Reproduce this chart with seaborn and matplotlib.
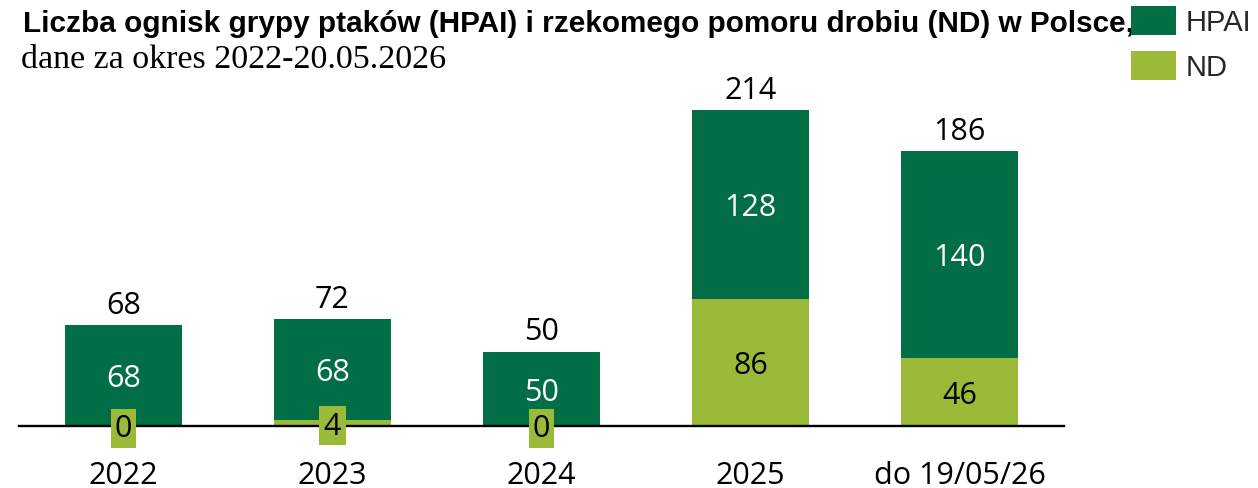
import matplotlib
matplotlib.use("Agg")
import matplotlib.pyplot as plt
import seaborn as sns
import pandas as pd
from matplotlib.patches import Patch

# ---- data ----
categories = ["2022", "2023", "2024", "2025", "do 19/05/26"]
hpai = [68, 68, 50, 128, 140]
nd = [0, 4, 0, 86, 46]
series_names = ["HPAI", "ND"]
title = "Liczba ognisk grypy ptaków (HPAI) i rzekomego pomoru drobiu (ND) w Polsce,"
subtitle = "dane za okres 2022-20.05.2026"

DARK = "#016E45"
LIGHT = "#9BBA37"

sns.set_theme(style="white")
plt.rcParams["font.family"] = ["Open Sans", "DejaVu Sans"]

totals = [h + n for h, n in zip(hpai, nd)]
df = pd.DataFrame({"cat": categories, "HPAI": hpai, "ND": nd, "total": totals})

W, H = 1258, 489
fig = plt.figure(figsize=(W / 100, H / 100), dpi=100)
base_px = 426.5
top_px = 100
ax = fig.add_axes([19 / W, (H - base_px) / H, 1045 / W, (base_px - top_px) / H])

sns.barplot(data=df, x="cat", y="total", color=DARK, width=0.557, saturation=1,
            errorbar=None, linewidth=0, ax=ax)
sns.barplot(data=df, x="cat", y="ND", color=LIGHT, width=0.557, saturation=1,
            errorbar=None, linewidth=0, ax=ax)

px_per_unit = 1.474
ax.set_ylim(0, (base_px - top_px) / px_per_unit)
ax.set_xlim(-0.5, 4.5)
ax.set_xlabel("")
ax.set_ylabel("")
ax.set_yticks([])
for s in ["top", "right", "left"]:
    ax.spines[s].set_visible(False)
ax.spines["bottom"].set_color("black")
ax.spines["bottom"].set_linewidth(1.7)
ax.tick_params(axis="x", length=0, pad=25, labelsize=22, labelcolor="black")

FS = 22
for i in range(len(categories)):
    ax.annotate(str(totals[i]), (i, totals[i]), xytext=(0, 9), textcoords="offset points",
                ha="center", va="baseline", fontsize=FS, color="black", zorder=5)
    ax.annotate(str(hpai[i]), (i, nd[i] + hpai[i] / 2), xytext=(0, -7.9),
                textcoords="offset points", ha="center", va="baseline",
                fontsize=FS, color="white", zorder=5)
    kw = {}
    if nd[i] < 10:
        kw["bbox"] = dict(boxstyle="square,pad=0.14", fc=LIGHT, ec="none")
    ax.annotate(str(nd[i]), (i, nd[i] / 2), xytext=(0, -7.9),
                textcoords="offset points", ha="center", va="baseline",
                fontsize=FS, color="black", zorder=5, annotation_clip=False, **kw)

# title fitted to width
t = fig.text(22.7 / W, 1 - 32.5 / H, title, va="baseline", ha="left",
             family=["Liberation Sans", "DejaVu Sans"], weight="bold", fontsize=20, color="black")
r = fig.canvas.get_renderer()
wpx = t.get_window_extent(r).width
t.set_fontsize(20 * 1110 / wpx)

fig.text(20.7 / W, 1 - 68.5 / H, subtitle, va="baseline", ha="left",
         family=["Liberation Serif", "DejaVu Serif"], fontsize=24.5, color="black")

handles = [Patch(facecolor=DARK, edgecolor="none", label=series_names[0]),
           Patch(facecolor=LIGHT, edgecolor="none", label=series_names[1])]
fig.legend(handles=handles, loc="upper left", bbox_to_anchor=(1131 / W, 1 - 6.7 / H),
           frameon=False, borderaxespad=0, borderpad=0,
           prop={"family": "Liberation Sans", "size": 21},
           handlelength=1.54, handleheight=1.16, handletextpad=0.35, labelspacing=0.51)

fig.savefig("out.png", dpi=100)
